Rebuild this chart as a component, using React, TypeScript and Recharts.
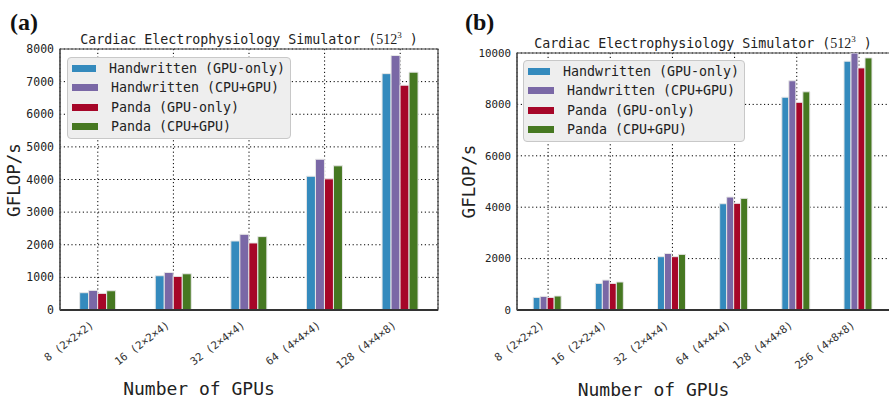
import React from 'react';
import { BarChart, Bar, XAxis, YAxis, CartesianGrid, ReferenceArea, Legend } from 'recharts';

const seriesNames = ['Handwritten (GPU-only)', 'Handwritten (CPU+GPU)', 'Panda (GPU-only)', 'Panda (CPU+GPU)'];
const seriesKeys = ['hwGpu', 'hwCpuGpu', 'pandaGpu', 'pandaCpuGpu'];
const seriesColors = ['#348ABD', '#7A68A6', '#A60628', '#467821'];

const categoriesA = ['8 (2×2×2)', '16 (2×2×4)', '32 (2×4×4)', '64 (4×4×4)', '128 (4×4×8)'];
const hwGpuA = [530, 1050, 2115, 4100, 7245];
const hwCpuGpuA = [600, 1150, 2320, 4620, 7800];
const pandaGpuA = [510, 1030, 2055, 4020, 6890];
const pandaCpuGpuA = [590, 1110, 2250, 4420, 7290];
const yTicksA = [0, 1000, 2000, 3000, 4000, 5000, 6000, 7000, 8000];

const categoriesB = ['8 (2×2×2)', '16 (2×2×4)', '32 (2×4×4)', '64 (4×4×4)', '128 (4×4×8)', '256 (4×8×8)'];
const hwGpuB = [490, 1035, 2075, 4135, 8280, 9680];
const hwCpuGpuB = [530, 1165, 2200, 4395, 8920, 10000];
const pandaGpuB = [490, 1035, 2075, 4150, 8080, 9420];
const pandaCpuGpuB = [545, 1090, 2165, 4345, 8490, 9810];
const yTicksB = [0, 2000, 4000, 6000, 8000, 10000];

const titleText = 'Cardiac Electrophysiology Simulator (';
const yLabel = 'GFLOP/s';
const xLabel = 'Number of GPUs';

const MONO = '"DejaVu Sans Mono", monospace';
const SERIF = '"Liberation Serif", "DejaVu Serif", serif';

function build(cats: string[], a: number[], b: number[], c: number[], d: number[]) {
  return cats.map((cat, i) => ({ cat, hwGpu: a[i], hwCpuGpu: b[i], pandaGpu: c[i], pandaCpuGpu: d[i] }));
}

const dataA = build(categoriesA, hwGpuA, hwCpuGpuA, pandaGpuA, pandaCpuGpuA);
const dataB = build(categoriesB, hwGpuB, hwCpuGpuB, pandaGpuB, pandaCpuGpuB);

const makeTick = (fontSize: number, dx: number, dy: number) => (props: any) => {
  const { x, y, payload } = props;
  const ax = x + dx;
  const ay = y + dy;
  return (
    <text
      x={ax}
      y={ay}
      transform={`rotate(-37, ${ax}, ${ay})`}
      textAnchor="end"
      fontSize={fontSize}
      fontFamily={MONO}
      fill="#333"
    >
      {payload.value}
    </text>
  );
};

const LegendBox = () => (
  <div
    style={{
      background: '#eeeeee',
      border: '1px solid #c8c8c8',
      borderRadius: 4,
      padding: '1px 5px 2px 4px',
      boxSizing: 'border-box',
    }}
  >
    {seriesNames.map((n, i) => (
      <div key={n} style={{ display: 'flex', alignItems: 'center', height: 19.3 }}>
        <div style={{ width: 26, height: 7, background: seriesColors[i], marginRight: 13 }} />
        <span style={{ fontFamily: MONO, fontSize: 13.3, color: '#222', whiteSpace: 'pre' }}>{n}</span>
      </div>
    ))}
  </div>
);

function Panel(props: {
  data: any[];
  width: number;
  left: number;
  top: number;
  right: number;
  yWidth: number;
  yMax: number;
  ticks: number[];
  yFont: number;
  legendLeft: number;
  legendTop: number;
  legendWidth: number;
  tickDx: number;
  tickDy: number;
}) {
  const p = props;
  return (
    <div style={{ position: 'absolute', left: p.left, top: 0 }}>
      <BarChart
        width={p.width}
        height={399}
        data={p.data}
        margin={{ top: p.top, right: p.right, bottom: 0, left: 0 }}
        barCategoryGap="26%"
        barGap={0}
      >
        <CartesianGrid stroke="#000" strokeWidth={1} strokeDasharray="1.2 2.6" />
        <XAxis
          dataKey="cat"
          height={89}
          tickLine={false}
          tickSize={0}
          tickMargin={0}
          interval={0}
          axisLine={{ stroke: '#333', strokeWidth: 2 }}
          tick={makeTick(10.8, p.tickDx, p.tickDy)}
        />
        <YAxis
          width={p.yWidth}
          domain={[0, p.yMax]}
          ticks={p.ticks}
          allowDataOverflow
          tickLine={false}
          tickSize={4}
          tickMargin={2}
          axisLine={{ stroke: '#555', strokeWidth: 1.2 }}
          tick={{ fontFamily: MONO, fontSize: p.yFont, fill: '#222' }}
        />
        <ReferenceArea y1={0} y2={p.yMax} fill="none" stroke="#444" strokeWidth={1.2} ifOverflow="visible" />
        {seriesKeys.map((k, i) => (
          <Bar
            key={k}
            dataKey={k}
            name={seriesNames[i]}
            fill={seriesColors[i]}
            stroke="#e6e6e6"
            strokeWidth={1}
            isAnimationActive={false}
          />
        ))}
        <Legend
          layout="vertical"
          align="center"
          verticalAlign="middle"
          content={() => <LegendBox />}
          wrapperStyle={{ left: p.legendLeft, top: p.legendTop, width: p.legendWidth, height: 'auto' }}
        />
      </BarChart>
    </div>
  );
}

export default function App() {
  return (
    <div
      style={{
        position: 'absolute',
        left: 0,
        top: 0,
        width: 889,
        height: 399,
        overflow: 'hidden',
        background: '#fff',
      }}
    >
      <Panel
        data={dataA}
        width={445}
        left={0}
        top={49}
        right={7}
        yWidth={60}
        yMax={8000}
        ticks={yTicksA}
        yFont={11.5}
        legendLeft={67}
        legendTop={57}
        legendWidth={224}
        tickDx={-3.3}
        tickDy={16.5}
      />
      <Panel
        data={dataB}
        width={445}
        left={445}
        top={53}
        right={0}
        yWidth={72}
        yMax={10000}
        ticks={yTicksB}
        yFont={10.8}
        legendLeft={78}
        legendTop={60}
        legendWidth={222}
        tickDx={-3.3}
        tickDy={16.5}
      />
      <svg
        width={889}
        height={399}
        style={{ position: 'absolute', left: 0, top: 0, pointerEvents: 'none' }}
      >
        <text x={10} y={30} fontFamily={SERIF} fontWeight="bold" fontSize={24} fill="#111">(a)</text>
        <text x={465} y={30} fontFamily={SERIF} fontWeight="bold" fontSize={24} fill="#111">(b)</text>

        <text x={249} y={43.5} textAnchor="middle" fontSize={13.3} fill="#222">
          <tspan fontFamily={MONO}>{titleText}</tspan>
          <tspan fontFamily={SERIF} fontSize={14}>512</tspan>
          <tspan fontFamily={SERIF} fontSize={9} dy={-6}>3</tspan>
          <tspan fontFamily={MONO} dy={6}>{' )'}</tspan>
        </text>
        <text x={703} y={47.5} textAnchor="middle" fontSize={13.3} fill="#222">
          <tspan fontFamily={MONO}>{titleText}</tspan>
          <tspan fontFamily={SERIF} fontSize={14}>512</tspan>
          <tspan fontFamily={SERIF} fontSize={9} dy={-6}>3</tspan>
          <tspan fontFamily={MONO} dy={6}>{' )'}</tspan>
        </text>

        <text
          x={13.5}
          y={180}
          transform="rotate(-90, 13.5, 180)"
          textAnchor="middle"
          dominantBaseline="central"
          fontFamily={MONO}
          fontSize={17.5}
          fill="#222"
        >
          {yLabel}
        </text>
        <text
          x={469}
          y={181.5}
          transform="rotate(-90, 469, 181.5)"
          textAnchor="middle"
          dominantBaseline="central"
          fontFamily={MONO}
          fontSize={17.5}
          fill="#222"
        >
          {yLabel}
        </text>

        <text x={199} y={394.5} textAnchor="middle" fontFamily={MONO} fontSize={18} fill="#222">{xLabel}</text>
        <text x={653.5} y={396} textAnchor="middle" fontFamily={MONO} fontSize={18} fill="#222">{xLabel}</text>
      </svg>
    </div>
  );
}
